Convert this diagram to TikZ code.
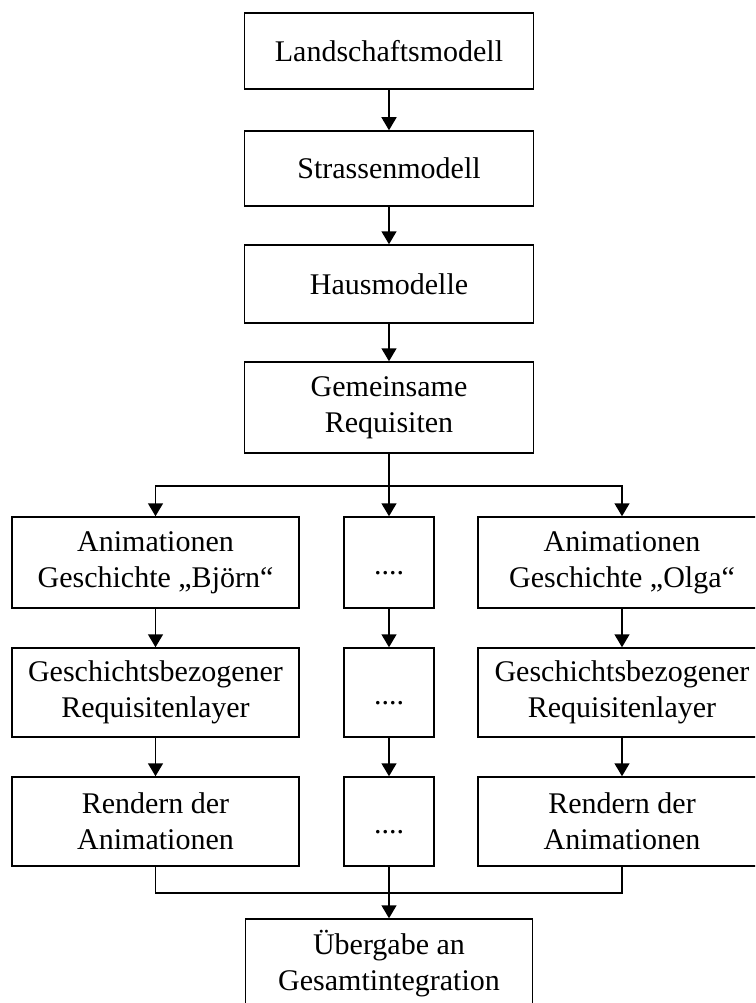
\documentclass[tikz,border=0pt]{standalone}
\usepackage{fontspec}
\setmainfont{Liberation Serif}
\usetikzlibrary{arrows.meta}
\begin{document}
\begin{tikzpicture}[x=1pt,y=-1pt,
  box/.style={draw=black, line width=1.5pt, rectangle, align=center, inner sep=0pt,
    font=\fontsize{30}{36}\selectfont},
  wide/.style={box, minimum width=289pt},
  narrow/.style={box, minimum width=90pt},
  conn/.style={line width=1.5pt, -{Triangle[width=15pt,length=13pt]}},
  plain/.style={line width=1.5pt}]
\useasboundingbox (0,0) rectangle (755,1003);
\clip (0,0) rectangle (755,1003);
\fill[white] (0,0) rectangle (755,1003);
\node[wide, minimum height=76pt] (L) at (389,51) {Landschaftsmodell};
\node[wide, minimum height=75pt] (S) at (389,168.5) {Strassenmodell};
\node[wide, minimum height=78pt] (H) at (389,284) {Hausmodelle};
\node[wide, minimum height=91pt] (G) at (389,407.5) {Gemeinsame\\Requisiten};
\node[box, minimum width=287pt, minimum height=91pt] (A1) at (155.5,562.5) {Animationen\\Geschichte „Björn“};
\node[narrow, minimum height=91pt] (A2) at (389,562.5) {\strut\raisebox{-5pt}{....}};
\node[box, minimum width=288pt, minimum height=91pt] (A3) at (622,562.5) {Animationen\\Geschichte „Olga“};
\node[box, minimum width=287pt, minimum height=89pt] (B1) at (155.5,692.5) {Geschichtsbezogener\\Requisitenlayer};
\node[narrow, minimum height=89pt] (B2) at (389,692.5) {\strut\raisebox{-5pt}{....}};
\node[box, minimum width=288pt, minimum height=89pt] (B3) at (622,692.5) {Geschichtsbezogener\\Requisitenlayer};
\node[box, minimum width=287pt, minimum height=89pt] (C1) at (155.5,821.5) {Rendern der\\Animationen};
\node[narrow, minimum height=89pt] (C2) at (389,821.5) {\strut\raisebox{-5pt}{....}};
\node[box, minimum width=288pt, minimum height=89pt] (C3) at (622,821.5) {Rendern der\\Animationen};
\node[box, minimum width=287pt, minimum height=90pt] (U) at (389,964) {Übergabe an\\Gesamtintegration};
\coordinate (top) at (389,486);
\coordinate (bot) at (389,893);
\draw[conn] (L) -- (S);
\draw[conn] (S) -- (H);
\draw[conn] (H) -- (G);
\draw[plain] (G.south) -- (top);
\draw[conn] (top) -| (A1.north);
\draw[conn] (top) -- (A2.north);
\draw[conn] (top) -| (A3.north);
\draw[conn] (A1) -- (B1);
\draw[conn] (A2) -- (B2);
\draw[conn] (A3) -- (B3);
\draw[conn] (B1) -- (C1);
\draw[conn] (B2) -- (C2);
\draw[conn] (B3) -- (C3);
\draw[plain] (C1.south) |- (bot);
\draw[plain] (C3.south) |- (bot);
\draw[conn] (C2.south) -- (U.north);
\end{tikzpicture}
\end{document}
